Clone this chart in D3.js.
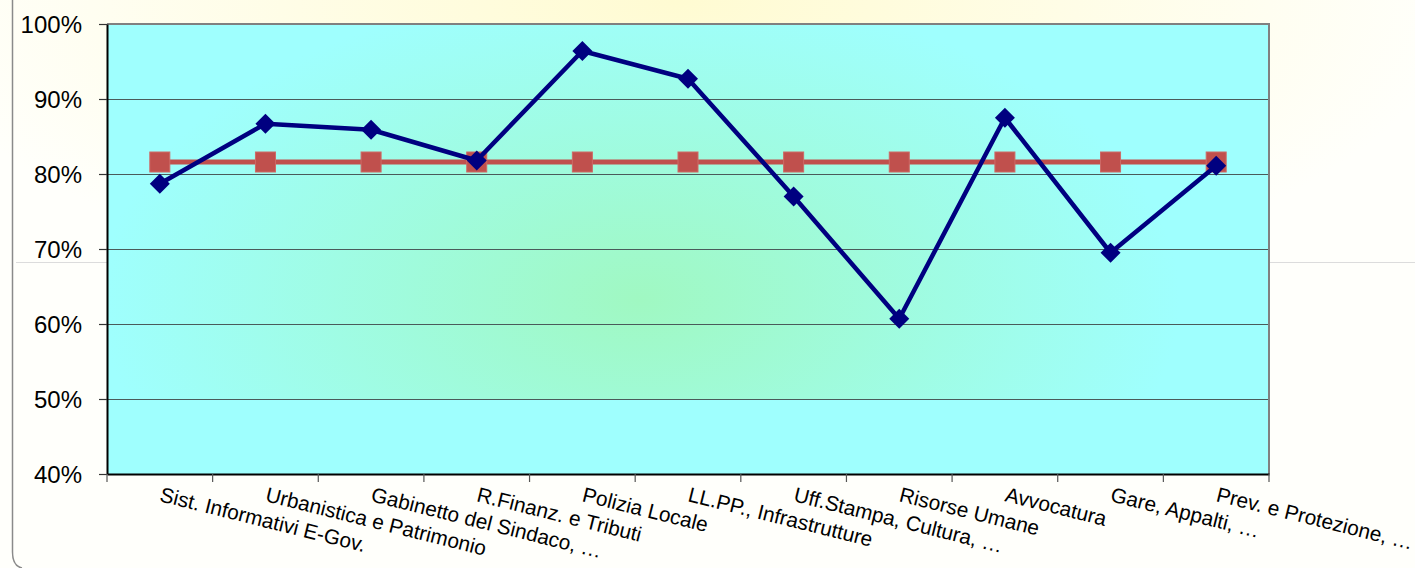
<!DOCTYPE html>
<html><head><meta charset="utf-8">
<script src="https://cdn.jsdelivr.net/npm/d3@7"></script>
<style>html,body{margin:0;padding:0;background:#fffffb;overflow:hidden}svg{display:block}</style>
</head><body>
<script>
const categories = ["Sist. Informativi E-Gov.","Urbanistica e Patrimonio","Gabinetto del Sindaco, …","R.Finanz. e Tributi","Polizia Locale","LL.PP., Infrastrutture","Uff.Stampa, Cultura, …","Risorse Umane","Avvocatura","Gare, Appalti, …","Prev. e Protezione, …"];
const seriesValues = [0.787,0.867,0.859,0.818,0.964,0.927,0.770,0.607,0.875,0.695,0.811];
const averageValues = [0.816,0.816,0.816,0.816,0.816,0.816,0.816,0.816,0.816,0.816,0.816];
const yTicks = [0.4,0.5,0.6,0.7,0.8,0.9,1.0];

const W = 1415, H = 568;
const m = {l:107, r:1269, t:24, b:474};
const svg = d3.select("body").append("svg").attr("width",W).attr("height",H);
const defs = svg.append("defs");
const bg = defs.append("radialGradient").attr("id","bg").attr("cx","0.48").attr("cy","0").attr("r","0.55");
bg.append("stop").attr("offset","0").attr("stop-color","#fffbd2");
bg.append("stop").attr("offset","1").attr("stop-color","#fffffb");
const pg = defs.append("radialGradient").attr("id","pg").attr("gradientUnits","userSpaceOnUse")
  .attr("cx",640).attr("cy",300).attr("r",540).attr("gradientTransform","translate(640,300) scale(1,0.58) translate(-640,-300)");
pg.append("stop").attr("offset","0").attr("stop-color","#a0f8c2");
pg.append("stop").attr("offset","1").attr("stop-color","#9ffffe");

svg.append("rect").attr("width",W).attr("height",H).attr("fill","url(#bg)");
svg.append("path").attr("d","M12.5,0 L12.5,552 Q12.5,566 22,568").attr("fill","none").attr("stroke","#8a8a8a").attr("stroke-width",1.5);
svg.append("line").attr("x1",16).attr("x2",W).attr("y1",262.5).attr("y2",262.5).attr("stroke","#dcdcdc").attr("stroke-width",1);

const x = d3.scaleBand().domain(categories).range([m.l,m.r]).padding(0);
const y = d3.scaleLinear().domain([0.4,1.0]).range([m.b,m.t]);

svg.append("rect").attr("x",m.l).attr("y",m.t).attr("width",m.r-m.l).attr("height",m.b-m.t).attr("fill","#9ffffe");
svg.append("rect").attr("x",m.l).attr("y",m.t).attr("width",m.r-m.l).attr("height",y(0.5)-m.t).attr("fill","url(#pg)");

svg.append("g").selectAll("line").data(yTicks.filter(d=>d>0.4&&d<1.0)).join("line")
  .attr("x1",m.l).attr("x2",m.r).attr("y1",d=>Math.round(y(d))+0.5).attr("y2",d=>Math.round(y(d))+0.5)
  .attr("stroke","#4a5a5a").attr("stroke-width",1.2);

svg.append("path").attr("d",`M${m.l},${m.t} L${m.r},${m.t} L${m.r},${m.b}`).attr("fill","none").attr("stroke","#808080").attr("stroke-width",2);

const yAxis = svg.append("g").attr("transform",`translate(${m.l},0)`)
  .call(d3.axisLeft(y).tickValues(yTicks).tickFormat(d3.format(".0%")).tickSize(8).tickSizeOuter(0));
yAxis.select(".domain").attr("stroke","#000").attr("stroke-width",2);
yAxis.selectAll(".tick line").attr("stroke","#333").attr("stroke-width",1.2);
yAxis.selectAll("text").attr("font-family","'Liberation Sans',Arial,sans-serif").attr("font-size",24).attr("fill","#000").attr("x",-25).attr("dy","0.36em");

const xAxis = svg.append("g").attr("transform",`translate(0,${m.b})`)
  .call(d3.axisBottom(x).tickSize(0).tickSizeOuter(0));
xAxis.select(".domain").attr("stroke","#000").attr("stroke-width",2);
xAxis.selectAll("text").remove();
svg.append("g").selectAll("line").data(categories.map((c,i)=>x(c)).concat([m.r])).join("line")
  .attr("x1",d=>d).attr("x2",d=>d).attr("y1",m.b).attr("y2",m.b+8).attr("stroke","#555").attr("stroke-width",1.2);
svg.append("g").selectAll("text").data(categories).join("text")
  .attr("transform",d=>`translate(${x(d)+x.bandwidth()/2-1},${m.b+27}) rotate(14)`)
  .attr("font-family","'Liberation Sans',Arial,sans-serif").attr("font-size",20.8).attr("fill","#000")
  .text(d=>d);

const cx = d => x(d)+x.bandwidth()/2;
svg.append("path").datum(averageValues)
  .attr("d",d3.line().x((d,i)=>cx(categories[i])).y(d=>y(d)))
  .attr("fill","none").attr("stroke","#c0504d").attr("stroke-width",5);
svg.append("g").selectAll("rect").data(averageValues).join("rect")
  .attr("x",(d,i)=>cx(categories[i])-10).attr("y",d=>y(d)-10).attr("width",20).attr("height",20)
  .attr("fill","#c0504d").attr("stroke","#cd6a66").attr("stroke-width",1);

svg.append("path").datum(seriesValues)
  .attr("d",d3.line().x((d,i)=>cx(categories[i])).y(d=>y(d)))
  .attr("fill","none").attr("stroke","#000080").attr("stroke-width",4.5).attr("stroke-linejoin","round");
svg.append("g").selectAll("path").data(seriesValues).join("path")
  .attr("d","M0,-10 L10,0 L0,10 L-10,0 Z")
  .attr("transform",(d,i)=>`translate(${cx(categories[i])},${y(d)})`)
  .attr("fill","#000080");
</script>
</body></html>
